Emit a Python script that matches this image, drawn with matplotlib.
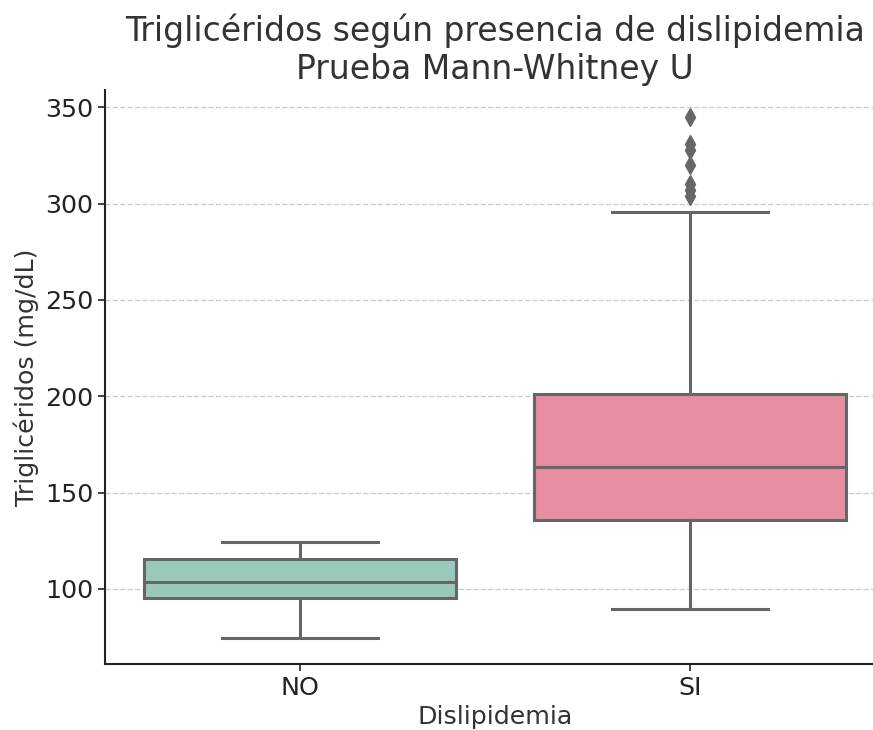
import matplotlib.pyplot as plt

# Summary statistics of triglycerides (mg/dL) per group
groups = ["NO", "SI"]
whisker_low = [74.6, 89.5]
q1 = [95.3, 136.0]
medians = [103.6, 163.5]
q3 = [115.3, 201.0]
whisker_high = [124.4, 295.5]
outliers = [[], [304, 307, 310, 320, 328, 331, 345]]
box_colors = ["#99c9bd", "#e78ea3"]

line_color = "#666666"

fig = plt.figure(figsize=(8.73, 7.3), dpi=100)
ax = fig.add_axes([105 / 873, 66 / 730, 780 / 873, 574 / 730])

stats = []
for i, name in enumerate(groups):
    stats.append({
        "label": name,
        "whislo": whisker_low[i],
        "q1": q1[i],
        "med": medians[i],
        "q3": q3[i],
        "whishi": whisker_high[i],
        "fliers": outliers[i],
    })

line_kw = dict(color=line_color, linewidth=2.2)
bp = ax.bxp(
    stats,
    positions=range(len(groups)),
    widths=0.8,
    patch_artist=True,
    boxprops=dict(edgecolor=line_color, linewidth=2.2),
    medianprops=line_kw,
    whiskerprops=line_kw,
    capprops=line_kw,
    flierprops=dict(marker="d", markersize=9, markerfacecolor=line_color,
                    markeredgecolor=line_color),
    capwidths=0.4,
)
for patch, c in zip(bp["boxes"], box_colors):
    patch.set_facecolor(c)

ax.set_xlim(-0.5, 1.5)
ax.set_ylim(61, 359)
ax.set_yticks([100, 150, 200, 250, 300, 350])
ax.set_xticks(range(len(groups)))
ax.set_xticklabels(groups)

ax.yaxis.grid(True, linestyle="--", color="#cccccc", linewidth=1)
ax.set_axisbelow(True)
for side in ("top", "right"):
    ax.spines[side].set_visible(False)
for side in ("left", "bottom"):
    ax.spines[side].set_color("#222222")
    ax.spines[side].set_linewidth(1.5)

ax.tick_params(labelsize=18.3, colors="#222222", length=5, width=1.2)
for lbl in ax.get_xticklabels() + ax.get_yticklabels():
    lbl.set_color("#222222")

ax.set_xlabel("Dislipidemia", fontsize=18.2, color="#333333")
ax.set_ylabel("Triglicéridos (mg/dL)", fontsize=18.2, color="#333333")
ax.set_title("Triglicéridos según presencia de dislipidemia\nPrueba Mann-Whitney U",
             fontsize=23.8, color="#333333", pad=8)

fig.savefig("out.png", dpi=100)
